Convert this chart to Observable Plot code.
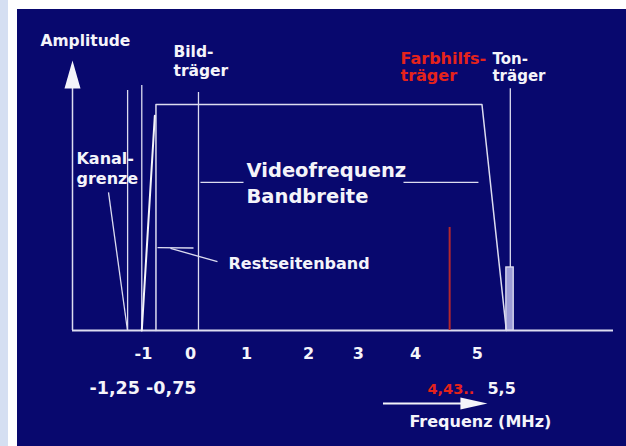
<!DOCTYPE html>
<html><head><meta charset="utf-8">
<script src="https://cdn.jsdelivr.net/npm/d3@7"></script>
<script src="https://cdn.jsdelivr.net/npm/@observablehq/plot@0.6"></script>
<style>
html,body{margin:0;padding:0;background:#fff;}
#wrap{position:relative;width:626px;height:446px;overflow:hidden;background:#fff;}
#strip{position:absolute;left:0;top:0;width:8px;height:446px;background:#d5dff2;}
#panel{position:absolute;left:17px;top:9px;right:0;bottom:0;background:#08086e;}
#chart{position:absolute;left:0;top:0;}
</style></head>
<body><div id="wrap"><div id="strip"></div><div id="panel"></div><div id="chart"></div></div>
<script>
// ---- data (frequency in MHz, amplitude relative to the band level 1) ----
const fMin = -2.222, fMax = 7.32;          // extent of the frequency axis
const ampAxisTop = 1.071, ampArrowTip = 1.195;
const tickValues = ["-1","0","1","2","3","4","5"];
const tickLabelAt = [-0.97,-0.14,0.85,1.94,2.82,3.83,4.92];
// carrier / boundary lines
const lineNames = ["Kanalgrenze -1,25","Kanalgrenze -1","Bildträger","Tonträger"];
const lineFreq  = [-1.25, -1, 0, 5.5];
const lineTop   = [1.062, 1.084, 1.053, 1.07];
const colorCarrierFreq = 4.43, colorCarrierAmp = 0.456;
// video band outline (trapezoid)
const bandFreq = [-0.75, -0.75, 5, 5.43];
const bandAmp  = [0, 1, 1, 0];
// vestigial sideband ramp
const rampFreq = [-1, -0.77];
const rampAmp  = [0, 0.95];
// sound carrier block
const soundBlock = {f1: 5.43, f2: 5.56, a: 0.279};
// leader lines [f1, a1, f2, a2]
const leaders = [
  [-1.587, 0.611, -1.252, 0.0],
  [0.035, 0.655, 0.794, 0.655],
  [3.616, 0.655, 4.938, 0.655],
  [-0.723, 0.367, -0.088, 0.365],
  [-0.494, 0.363, 0.335, 0.305]
];
// labels
const labelTexts = ["Amplitude","Bild-","träger","Kanal-","grenze","Videofrequenz","Bandbreite","Restseitenband","Farbhilfs-","träger","Ton-","träger","-1,25 -0,75","4,43..","5,5","Frequenz (MHz)"];
const labelFreq  = [-2.787,-0.441,-0.441,-2.152,-2.152,0.847,0.847,0.529,3.563,3.563,5.185,5.185,-1.922,4.039,5.097,3.721];
const labelAmp   = [1.257,1.208,1.124,0.735,0.650,0.681,0.562,0.274,1.181,1.102,1.181,1.102,-0.283,-0.283,-0.283,-0.429];
const labelSize  = [15.5,15.5,15.5,16,16,19.5,19.5,16,16,16,15,15,17.5,14.5,16,16];
const labelRed   = [0,0,0,0,0,0,0,0,1,1,0,0,0,1,0,0];
const tickAmp = -0.128;
// frequency arrow
const freqArrow = {f1: 3.263, f2: 4.709, head: 4.62, a: -0.323};

const WHITE = "#f4f4fa", LINE = "#dcdcf0", RED = "#e5231b", DARKRED = "#b4282d";
const labels = labelTexts.map((t,i)=>({t, f:labelFreq[i], a:labelAmp[i], s:labelSize[i], red:labelRed[i]}));
const lines = lineNames.map((n,i)=>({n, f:lineFreq[i], top:lineTop[i]}));
const band = bandFreq.map((f,i)=>({f, a:bandAmp[i]}));
const ramp = rampFreq.map((f,i)=>({f, a:rampAmp[i]}));
const links = leaders.map(d=>({f1:d[0],a1:d[1],f2:d[2],a2:d[3]}));
const ticks = tickValues.map((t,i)=>({t, f:tickLabelAt[i]}));

const upHead = {draw(c){c.moveTo(-8,0);c.lineTo(8,0);c.lineTo(0,-28);c.closePath();}};
const rightHead = {draw(c){c.moveTo(-6,0);c.lineTo(6,0);c.lineTo(0,-27);c.closePath();}};
const font = "DejaVu Sans";

const sizes = [...new Set(labelSize)];
const textMarks = sizes.flatMap(sz => [0,1].map(r =>
  Plot.text(labels.filter(d=>d.s===sz && d.red===r), {x:"f", y:"a", text:"t", textAnchor:"start", lineAnchor:"bottom",
    fill: r ? RED : WHITE, fontSize: sz, fontWeight:"bold", fontFamily: font})));

const chart = Plot.plot({
  width: 626, height: 446,
  x: {domain:[fMin,fMax], range:[72,613], axis:null},
  y: {domain:[0,1.2], range:[330,58.8], axis:null},
  style: {background:"transparent", overflow:"visible"},
  marks: [
    Plot.ruleY([0], {x1: fMin, x2: fMax, stroke: LINE, strokeWidth: 1.8}),
    Plot.ruleX([fMin], {y1: 0, y2: ampAxisTop, stroke: LINE, strokeWidth: 1.5}),
    Plot.dot([{f:fMin, a:ampAxisTop}], {x:"f", y:"a", symbol: upHead, fill: WHITE, stroke:"none"}),
    Plot.ruleX(lines, {x:"f", y1:0, y2:"top", stroke: LINE, strokeWidth: 1.3}),
    Plot.ruleX([colorCarrierFreq], {y1:0, y2:colorCarrierAmp, stroke: DARKRED, strokeWidth: 2}),
    Plot.rect([soundBlock], {x1:"f1", x2:"f2", y1:0, y2:"a", fill:"#9c9cd6", stroke: LINE, strokeWidth: 1.3}),
    Plot.line(band, {x:"f", y:"a", stroke: LINE, strokeWidth: 1.5}),
    Plot.line(ramp, {x:"f", y:"a", stroke: WHITE, strokeWidth: 2}),
    Plot.link(links, {x1:"f1", y1:"a1", x2:"f2", y2:"a2", stroke: LINE, strokeWidth: 1.3}),
    Plot.ruleY([freqArrow.a], {x1: freqArrow.f1, x2: freqArrow.f2, stroke: WHITE, strokeWidth: 1.8}),
    Plot.dot([{f:freqArrow.head, a:freqArrow.a}], {x:"f", y:"a", symbol: rightHead, rotate: 90, fill: WHITE, stroke:"none"}),
    Plot.text(ticks, {x:"f", y: tickAmp, text:"t", lineAnchor:"bottom", fill: WHITE, fontSize: 16, fontWeight:"bold", fontFamily: font}),
    ...textMarks
  ]
});
document.getElementById("chart").appendChild(chart);
</script>
</body></html>
